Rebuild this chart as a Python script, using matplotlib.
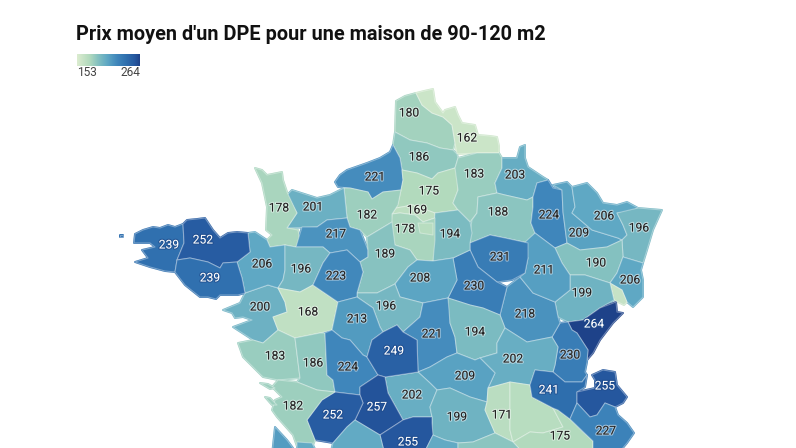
#!/usr/bin/env python3
import matplotlib
matplotlib.use("Agg")
import matplotlib.pyplot as plt
import matplotlib.patheffects as pe
from matplotlib.colors import LinearSegmentedColormap, Normalize
from matplotlib.patches import Polygon
import numpy as np

titre = "Prix moyen d'un DPE pour une maison de 90-120 m2"
prix_min = 153
prix_max = 264

departements = [
    "Pas-de-Calais", "Nord", "Somme", "Seine-Maritime", "Oise", "Val-d'Oise", "Aisne", "Ardennes",
    "Marne", "Meuse", "Meurthe-et-Moselle", "Moselle", "Bas-Rhin", "Vosges", "Haut-Rhin", "Belfort",
    "Haute-Saone", "Doubs", "Jura", "Cote-d'Or", "Haute-Marne", "Aube", "Yonne", "Seine-et-Marne",
    "Yvelines", "Paris", "Eure", "Calvados", "Manche", "Orne", "Eure-et-Loir", "Loiret",
    "Loir-et-Cher", "Cher", "Nievre", "Saone-et-Loire", "Allier", "Creuse", "Puy-de-Dome", "Loire",
    "Rhone", "Isere", "Ain", "Haute-Savoie", "Savoie", "Loire-Atlantique", "Ille-et-Vilaine", "Mayenne",
    "Maine-et-Loire", "Sarthe", "Indre-et-Loire", "Vendee", "Deux-Sevres", "Vienne", "Indre",
    "Haute-Vienne", "Correze", "Dordogne", "Charente-Maritime", "Gironde", "Landes", "Lot", "Cantal",
    "Haute-Loire", "Finistere", "Cotes-d'Armor", "Morbihan", "Re", "Oleron", "Ouessant",
]
prix = [
    180, 162, 186, 221, 175, 169, 183, 203,
    188, 224, 209, 206, 196, 190, 206, 165,
    199, 264, 230, 218, 211, 231, 230, 194,
    178, 172, 182, 201, 178, 217, 189, 208,
    196, 221, 194, 202, 209, 202, 199, 171,
    172, 175, 241, 255, 227, 200, 206, 196,
    168, 223, 213, 183, 186, 224, 249,
    257, 255, 252, 182, 212, 205, 205, 205,
    188, 239, 252, 239, 182, 182, 239,
]
sans_etiquette = {"Belfort", "Paris", "Rhone", "Gironde", "Landes", "Lot", "Cantal", "Haute-Loire", "Re", "Oleron", "Ouessant"}

# Contours releves a la main sur la carte
contours = {
    "Pas-de-Calais": [(396,101),(405,96),(416,93),(422,105),(432,113),(443,117),(452,125),(455,143),(453,150),(440,148),(427,143),(410,140),(395,132)],
    "Nord": [(416,93),(424,91),(433,89),(435,102),(443,113),(445,110),(455,107),(458,115),(462,123),(475,125),(478,135),(490,136),(497,137),(499,146),(499,153),(477,153),(457,154),(455,143),(452,125),(443,117),(432,113),(422,105)],
    "Somme": [(395,132),(410,140),(427,143),(440,148),(453,150),(457,154),(458,158),(455,168),(438,173),(432,179),(417,173),(402,170),(400,158),(393,145)],
    "Seine-Maritime": [(335,182),(340,175),(347,170),(367,163),(380,158),(390,152),(393,145),(400,158),(402,170),(403,180),(401,190),(383,192),(372,199),(368,192),(350,188),(338,187)],
    "Oise": [(402,170),(417,173),(432,179),(438,173),(455,168),(458,172),(458,190),(453,203),(458,210),(435,213),(413,205),(396,208),(398,203),(401,190),(403,180)],
    "Val-d'Oise": [(396,208),(413,205),(435,213),(435,218),(423,222),(415,215),(400,213),(392,214)],
    "Aisne": [(458,158),(477,153),(499,153),(502,158),(502,168),(495,183),(497,193),(478,197),(477,213),(470,222),(458,210),(453,203),(458,190),(455,168)],
    "Ardennes": [(502,158),(517,158),(520,147),(525,145),(525,158),(528,167),(543,177),(548,180),(537,183),(533,197),(527,200),(505,195),(497,193),(495,183),(502,168)],
    "Marne": [(478,197),(497,193),(505,195),(527,200),(533,197),(533,207),(531,223),(535,233),(528,243),(505,238),(490,235),(470,243),(470,233),(472,220),(477,213)],
    "Meuse": [(537,183),(548,180),(553,188),(562,190),(563,212),(567,243),(555,248),(535,233),(531,223),(533,207),(533,197)],
    "Meurthe-et-Moselle": [(553,185),(567,182),(572,187),(575,207),(572,213),(592,230),(618,238),(622,240),(607,247),(580,250),(567,243),(563,212),(562,190)],
    "Moselle": [(572,187),(587,183),(597,193),(603,203),(617,205),(627,202),(638,208),(630,212),(617,213),(623,225),(627,235),(622,240),(618,238),(592,230),(572,213),(575,207)],
    "Bas-Rhin": [(617,213),(638,208),(662,210),(653,230),(647,250),(643,263),(623,257),(622,240),(627,235),(623,225)],
    "Vosges": [(555,248),(567,243),(580,250),(607,247),(622,240),(623,257),(617,273),(610,283),(585,275),(570,275),(562,263)],
    "Haut-Rhin": [(623,257),(643,263),(641,270),(643,280),(643,297),(633,307),(627,302),(622,290),(610,283),(617,273)],
    "Belfort": [(610,283),(622,290),(627,302),(624,305),(614,300)],
    "Haute-Saone": [(570,275),(585,275),(610,283),(614,300),(600,308),(583,320),(568,322),(558,317),(555,302),(570,290)],
    "Doubs": [(568,322),(583,320),(600,308),(616,302),(617,312),(623,313),(613,323),(600,340),(593,353),(587,360),(588,350),(577,333),(572,330)],
    "Jura": [(552,337),(560,323),(568,322),(572,330),(577,333),(588,350),(587,362),(585,372),(587,375),(582,382),(565,382),(553,372),(555,365),(558,347)],
    "Cote-d'Or": [(500,315),(507,287),(520,277),(533,293),(555,302),(558,317),(560,323),(552,337),(537,340),(527,342),(505,328)],
    "Haute-Marne": [(522,245),(535,233),(555,248),(562,263),(570,275),(570,290),(555,302),(533,293),(520,277),(525,273),(528,258)],
    "Aube": [(470,243),(490,235),(505,238),(528,243),(528,258),(525,273),(512,280),(497,282),(478,267),(470,250)],
    "Yonne": [(453,258),(470,250),(478,267),(497,282),(507,287),(500,315),(483,308),(470,305),(448,298),(457,280)],
    "Seine-et-Marne": [(435,213),(458,210),(470,222),(472,233),(470,243),(470,250),(453,258),(433,261),(432,247)],
    "Yvelines": [(392,214),(400,213),(415,215),(423,222),(435,218),(435,240),(433,261),(417,260),(410,250),(395,245),(390,235)],
    "Paris": [(418,223),(433,223),(433,235),(420,233)],
    "Eure": [(344,188),(350,188),(368,192),(372,199),(383,192),(401,190),(398,205),(392,214),(392,222),(367,237),(360,230),(350,227),(347,218)],
    "Calvados": [(287,195),(292,190),(317,198),(330,195),(344,188),(347,218),(327,220),(317,227),(287,228),(297,213)],
    "Manche": [(255,168),(262,170),(267,175),(282,172),(283,180),(287,192),(297,213),(287,228),(298,230),(300,240),(296,247),(285,245),(270,247),(267,240),(272,235),(266,230),(267,207),(262,183)],
    "Orne": [(296,247),(302,227),(317,227),(327,220),(347,218),(350,227),(360,230),(368,250),(368,257),(360,262),(347,250),(330,253),(323,247),(300,247)],
    "Eure-et-Loir": [(367,237),(392,222),(395,245),(410,250),(417,260),(408,267),(395,284),(377,293),(357,293),(363,272),(360,262),(368,257),(368,250)],
    "Loiret": [(408,267),(417,260),(433,261),(453,258),(457,280),(448,298),(423,303),(400,297),(395,284)],
    "Loir-et-Cher": [(357,293),(377,293),(395,284),(400,297),(423,303),(420,317),(403,332),(397,325),(383,332),(380,327),(373,308),(357,297)],
    "Cher": [(423,303),(448,298),(450,305),(450,323),(455,337),(457,353),(447,357),(430,367),(418,372),(417,340),(403,332),(420,317)],
    "Nievre": [(448,298),(470,305),(483,308),(500,315),(505,328),(497,343),(497,353),(480,358),(475,360),(457,353),(455,337),(450,323)],
    "Saone-et-Loire": [(505,328),(527,342),(537,340),(552,337),(558,347),(555,365),(553,372),(535,370),(530,385),(510,382),(488,388),(495,373),(480,358),(497,353),(497,343)],
    "Allier": [(430,367),(447,357),(457,353),(475,360),(480,358),(495,373),(488,388),(487,402),(470,397),(450,388),(437,390),(430,383),(418,372)],
    "Creuse": [(385,377),(418,372),(430,383),(437,390),(430,407),(432,417),(413,417),(403,420),(388,393)],
    "Puy-de-Dome": [(437,390),(450,388),(470,397),(487,402),(485,410),(495,433),(473,442),(458,443),(445,440),(432,435),(432,417),(430,407)],
    "Loire": [(488,388),(510,382),(510,430),(513,442),(495,433),(485,410),(487,402)],
    "Rhone": [(510,382),(530,385),(532,397),(553,408),(563,427),(543,433),(530,432),(513,442),(510,430)],
    "Isere": [(553,408),(558,410),(570,419),(583,432),(593,441),(593,455),(525,455),(513,442),(530,432),(543,433),(563,427)],
    "Ain": [(530,385),(535,370),(553,372),(565,382),(582,382),(587,375),(585,387),(577,392),(577,403),(570,419),(558,410),(553,408),(532,397)],
    "Haute-Savoie": [(592,375),(603,370),(615,372),(617,385),(627,397),(623,403),(615,407),(605,403),(597,415),(590,417),(577,403),(577,392),(595,388),(595,380)],
    "Savoie": [(570,419),(577,403),(590,417),(597,415),(605,403),(615,407),(618,415),(627,423),(634,433),(627,443),(617,455),(593,455),(593,441)],
    "Loire-Atlantique": [(223,310),(240,303),(245,293),(268,285),(278,288),(285,302),(287,312),(273,317),(278,330),(263,343),(253,340),(233,327),(252,320),(243,317),(235,318),(232,313)],
    "Ille-et-Vilaine": [(248,233),(255,232),(267,240),(270,247),(285,245),(285,270),(283,280),(278,288),(268,285),(245,293),(242,278),(237,262),(250,252)],
    "Mayenne": [(285,245),(296,247),(323,247),(330,253),(323,263),(313,285),(300,292),(278,288),(283,280),(285,270)],
    "Maine-et-Loire": [(278,288),(300,292),(313,285),(338,302),(332,330),(320,333),(295,338),(278,330),(273,317),(287,312),(285,302)],
    "Sarthe": [(330,253),(347,250),(360,262),(363,272),(357,293),(357,297),(338,302),(313,285),(323,263)],
    "Indre-et-Loire": [(338,302),(357,297),(373,308),(380,327),(383,332),(372,340),(367,357),(363,355),(350,340),(342,338),(332,330)],
    "Vendee": [(238,343),(253,340),(263,343),(278,330),(295,338),(300,378),(278,380),(263,377),(243,357)],
    "Deux-Sevres": [(295,338),(320,333),(325,333),(327,375),(333,380),(335,392),(317,390),(297,382),(300,378)],
    "Vienne": [(325,333),(332,330),(342,338),(350,340),(363,355),(367,357),(378,375),(360,387),(360,395),(335,392),(333,380),(327,375)],
    "Indre": [(367,357),(372,340),(383,332),(397,325),(403,332),(417,340),(418,372),(385,377),(378,375)],
    "Haute-Vienne": [(360,387),(378,375),(385,377),(388,393),(403,420),(400,422),(380,435),(355,420),(363,403),(360,395)],
    "Correze": [(380,435),(400,422),(403,420),(413,417),(432,417),(432,423),(433,435),(423,455),(385,455)],
    "Dordogne": [(307,420),(322,400),(335,392),(360,395),(363,403),(355,420),(347,427),(333,443),(315,440)],
    "Charente-Maritime": [(278,380),(297,382),(317,390),(335,392),(322,400),(307,420),(315,440),(312,448),(312,455),(300,455),(293,435),(277,417),(272,410),(275,400),(282,397),(272,387)],
    "Gironde": [(275,427),(287,440),(293,448),(294,455),(272,455)],
    "Landes": [(297,442),(312,443),(318,455),(297,455)],
    "Lot": [(333,443),(347,427),(355,420),(380,435),(385,455),(330,455)],
    "Cantal": [(433,435),(445,440),(458,443),(458,455),(423,455)],
    "Haute-Loire": [(458,443),(473,442),(495,433),(513,442),(525,455),(458,455)],
    "Finistere": [(134,243),(135,234),(143,230),(153,227),(160,228),(168,225),(175,227),(183,224),(184,243),(177,260),(175,272),(165,271),(150,267),(135,262),(148,258),(142,250),(155,247),(150,243)],
    "Cotes-d'Armor": [(183,224),(187,220),(197,219),(205,218),(213,230),(220,238),(228,233),(237,232),(248,233),(250,252),(237,262),(223,263),(220,268),(208,262),(190,258),(177,260),(184,243)],
    "Morbihan": [(177,260),(190,258),(208,262),(220,268),(223,263),(237,262),(242,278),(245,293),(238,295),(220,295),(216,299),(208,297),(200,297),(185,285),(175,272)],
    "Re": [(260,383),(268,384),(275,388),(270,389)],
    "Oleron": [(265,397),(270,398),(277,405),(272,405)],
    "Ouessant": [(120,235),(123,235),(123,237),(120,237)],
}

# Position des etiquettes sur la carte
etiquettes = {
    "Pas-de-Calais": (409,113), "Nord": (467,138), "Somme": (419,157), "Seine-Maritime": (375,177),
    "Oise": (429,191), "Val-d'Oise": (417,210), "Aisne": (474,174), "Ardennes": (515,175),
    "Marne": (498,212), "Meuse": (549,215), "Meurthe-et-Moselle": (579,233), "Moselle": (604,216),
    "Bas-Rhin": (639,228), "Vosges": (596,263), "Haut-Rhin": (630,280), "Haute-Saone": (582,293),
    "Doubs": (594,324), "Jura": (570,355), "Cote-d'Or": (525,314), "Haute-Marne": (544,270),
    "Aube": (500,257), "Yonne": (474,286), "Seine-et-Marne": (450,234), "Yvelines": (405,229),
    "Eure": (367,215), "Calvados": (313,207), "Manche": (279,208), "Orne": (336,234),
    "Eure-et-Loir": (385,254), "Loiret": (420,278), "Loir-et-Cher": (386,306), "Cher": (432,334),
    "Nievre": (475,332), "Saone-et-Loire": (513,359), "Allier": (465,376), "Creuse": (412,395),
    "Puy-de-Dome": (457,417), "Loire": (502,415), "Isere": (560,436), "Ain": (549,390),
    "Haute-Savoie": (605,386), "Savoie": (606,431), "Loire-Atlantique": (260,307),
    "Ille-et-Vilaine": (262,264), "Mayenne": (301,269), "Maine-et-Loire": (308,312), "Sarthe": (336,276),
    "Indre-et-Loire": (357,319), "Vendee": (275,356), "Deux-Sevres": (313,363), "Vienne": (348,367),
    "Indre": (394,351), "Haute-Vienne": (377,407), "Correze": (408,442), "Dordogne": (333,415),
    "Charente-Maritime": (293,406), "Finistere": (169,245), "Cotes-d'Armor": (203,240), "Morbihan": (210,278),
}

# Echelle de couleur
couleurs_prix = [153, 175, 190, 206, 224, 240, 255, 264]
couleurs_hex = ["#dcecd0", "#b2dabd", "#84c1c0", "#5fa8c4", "#3f86bb", "#2f6fae", "#25589f", "#1e4289"]

norm = Normalize(prix_min, prix_max)
cmap = LinearSegmentedColormap.from_list(
    "dpe", [(norm(p), c) for p, c in zip(couleurs_prix, couleurs_hex)])

plt.rcParams["font.family"] = ["Roboto", "DejaVu Sans"]

fig = plt.figure(figsize=(7.96, 4.48), dpi=100)
ax = fig.add_axes([0, 0, 1, 1])
ax.set_xlim(0, 796)
ax.set_ylim(448, 0)
ax.axis("off")

# sous-couche de la couleur du departement pour boucher les petits trous entre contours
for nom, valeur in zip(departements, prix):
    ax.add_patch(Polygon(contours[nom], closed=True, facecolor=cmap(norm(valeur)),
                         edgecolor=cmap(norm(valeur)), linewidth=1.4, joinstyle="round", zorder=1))

for nom, valeur in zip(departements, prix):
    ax.add_patch(Polygon(contours[nom], closed=True, facecolor=cmap(norm(valeur)),
                         edgecolor=(1, 1, 1, 0.35), linewidth=0.8, joinstyle="round", zorder=2))
    if nom in sans_etiquette:
        continue
    x, y = etiquettes[nom]
    if valeur >= 239:
        couleur, halo = "white", (0.12, 0.29, 0.54, 0.7)
    else:
        couleur, halo = "#222222", (1, 1, 1, 0.5)
    ax.text(x, y, str(valeur), ha="center", va="center", fontsize=8.7, color=couleur, zorder=3,
            path_effects=[pe.withStroke(linewidth=1.6, foreground=halo)])

ax.text(76, 34, titre, ha="left", va="center", fontsize=14.3, fontweight="bold", color="#111111")

# Legende
ax_legende = fig.add_axes([77 / 796, 1 - 66 / 448, 63 / 796, 12 / 448])
ax_legende.imshow(np.linspace(0, 1, 256).reshape(1, -1), aspect="auto", cmap=cmap)
ax_legende.axis("off")
ax.text(77, 73, str(prix_min), ha="left", va="center", fontsize=8.6, color="#444444")
ax.text(140, 73, str(prix_max), ha="right", va="center", fontsize=8.6, color="#444444")

fig.savefig("out.png", dpi=100)
